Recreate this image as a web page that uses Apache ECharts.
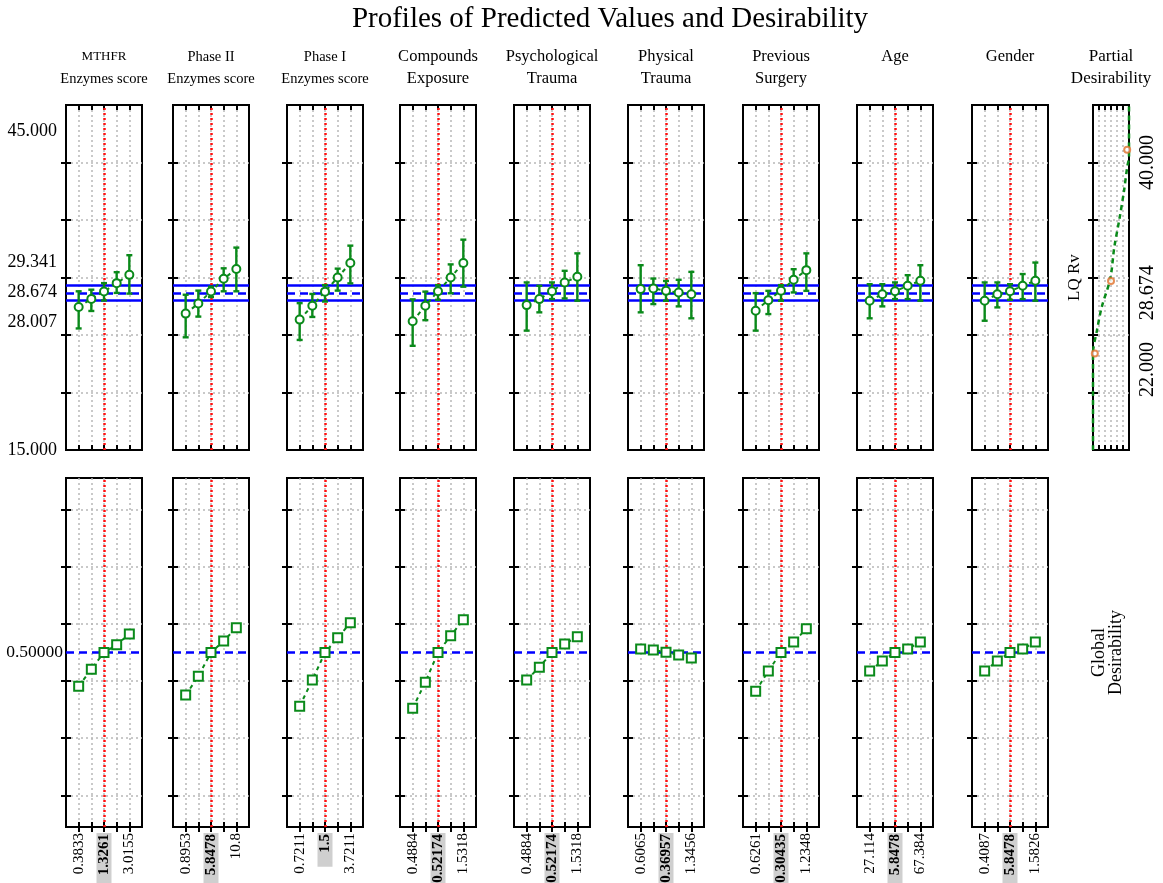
<!DOCTYPE html>
<html><head><meta charset="utf-8">
<script src="https://cdn.jsdelivr.net/npm/echarts@6/dist/echarts.min.js"></script>
<style>html,body{margin:0;padding:0;background:#fff}#chart{width:1163px;height:883px}</style>
</head><body><div id="chart"></div>
<script>
// ---------------- data ----------------
const titleText = 'Profiles of Predicted Values and Desirability';
const headers = ['{s|MTHFR}\n{m|Enzymes score}', '{m|Phase II}\n{m|Enzymes score}', '{m|Phase I}\n{m|Enzymes score}', 'Compounds\nExposure',
  'Psychological\nTrauma', 'Physical\nTrauma', 'Previous\nSurgery', 'Age', 'Gender'];
const levels = [1, 2, 3, 4, 5];          // factor level positions
const currentLevel = 3;                  // red dotted line
const lqMean = 28.674, lqCiLow = 28.007, lqCiHigh = 29.341;
const globalDesirability = 0.5;
const yTopLabels = [15, 28.674, 45];
const yTopTicks = [20, 25, 30, 35, 40];

const lqPred = [
  [27.43, 28.14, 28.78, 29.51, 30.23],
  [26.86, 27.74, 28.78, 29.89, 30.74],
  [26.34, 27.54, 28.77, 30.00, 31.26],
  [26.20, 27.54, 28.80, 30.00, 31.26],
  [27.60, 28.12, 28.80, 29.57, 30.06],
  [28.99, 29.05, 28.84, 28.70, 28.55],
  [27.11, 28.03, 28.85, 29.80, 30.64],
  [27.98, 28.55, 28.80, 29.28, 29.71],
  [27.98, 28.55, 28.80, 29.28, 29.71]
];
const lqLow = [
  [25.57, 27.09, 28.00, 28.66, 28.60],
  [24.80, 26.60, 28.30, 28.80, 28.80],
  [24.57, 26.57, 27.91, 28.86, 29.49],
  [24.06, 26.29, 28.06, 28.63, 29.20],
  [25.38, 26.97, 28.12, 28.18, 27.98],
  [26.97, 27.69, 27.98, 27.49, 26.45],
  [25.38, 26.82, 27.98, 28.70, 28.84],
  [26.45, 27.49, 28.12, 28.12, 27.98],
  [26.24, 27.40, 28.06, 28.12, 27.98]
];
const lqHigh = [
  [28.80, 28.94, 29.51, 30.46, 31.94],
  [28.50, 28.86, 29.20, 30.80, 32.60],
  [27.77, 28.57, 29.34, 30.77, 32.77],
  [28.10, 28.77, 29.34, 31.14, 33.29],
  [29.57, 29.28, 29.57, 30.58, 32.10],
  [31.07, 29.91, 29.70, 29.80, 30.49],
  [28.64, 28.84, 29.34, 30.72, 32.10],
  [29.42, 29.42, 29.57, 30.20, 31.07],
  [29.57, 29.57, 29.42, 30.30, 31.30]
];
const desirability = [
  [0.403, 0.452, 0.500, 0.522, 0.553],
  [0.378, 0.432, 0.500, 0.533, 0.571],
  [0.346, 0.421, 0.500, 0.542, 0.585],
  [0.340, 0.415, 0.500, 0.548, 0.594],
  [0.421, 0.458, 0.500, 0.524, 0.545],
  [0.510, 0.507, 0.501, 0.493, 0.484],
  [0.389, 0.447, 0.500, 0.530, 0.568],
  [0.447, 0.476, 0.500, 0.510, 0.530],
  [0.447, 0.476, 0.500, 0.510, 0.530]
];
const lowLabels  = ['0.3833', '0.8953', '0.7211', '0.4884', '0.4884', '0.6065', '0.6261', '27.114', '0.4087'];
const midLabels  = ['1.3261', '5.8478', '1.5', '0.52174', '0.52174', '0.36957', '0.30435', '5.8478', '5.8478'];
const highLabels = ['3.0155', '10.8', '3.7211', '1.5318', '1.5318', '1.3456', '1.2348', '67.384', '1.5826'];

// partial desirability curve (desirability, LQ Rv)
const partialD  = [0, 0, 0.11, 0.24, 0.48, 0.59, 0.74, 0.86, 0.95, 1, 1];
const partialLQ = [15, 23.4, 25.4, 27.4, 29.9, 32.6, 35.2, 37.5, 39.6, 40.5, 45];
const partialMarkD  = [0.05, 0.5, 0.95];
const partialMarkLQ = [23.4, 29.7, 41.1];
const partialLabels = [22, 28.674, 40];

// ---------------- layout ----------------
const FONT = 'Liberation Serif';
const GREEN = '#0a8a1a';
const panelLefts = [66, 173, 287, 400, 514, 628, 743, 857, 972];
const PANEL_W = 76;
const TOP_Y = 105, TOP_H = 345, BOT_Y = 478, BOT_H = 349;
const RIGHT_L = 1093, RIGHT_W = 36;
const headerGaps = [15, 15, 15, 15, 15, 15, 15, 37, 37];
const desGridLines = [0.09, 0.255, 0.418, 0.582, 0.745, 0.91];
const partialGridLines = [1/6, 2/6, 3/6, 4/6, 5/6];

const tickStyle = { show: true, inside: true, length: 5, lineStyle: { color: '#000', width: 2 } };
const gridLineStyle = { show: true, lineStyle: { color: '#b8b8b8', type: [2, 3], width: 1.5 } };
const ticksAt = vals => Object.assign({ customValues: vals }, tickStyle);

const option = {
  backgroundColor: '#fff',
  animation: false,
  textStyle: { fontFamily: FONT, color: '#000' },
  title: { text: titleText, left: 605, top: 0, textAlign: 'center',
    textStyle: { fontFamily: FONT, fontSize: 29, fontWeight: 'normal', color: '#000' } },
  grid: [], xAxis: [], yAxis: [], series: []
};

function addGrid(left, top, width, height) {
  option.grid.push({ left, top, width, height, show: true, borderColor: '#000', borderWidth: 2,
    backgroundColor: '#fff', outerBoundsMode: 'none' });
  return option.grid.length - 1;
}
function addAxis(kind, cfg) { option[kind].push(cfg); return option[kind].length - 1; }

const headerNameStyle = { fontFamily: FONT, fontSize: 16.5, lineHeight: 22, color: '#000',
  rich: { s: { fontFamily: FONT, fontSize: 13, lineHeight: 22 }, m: { fontFamily: FONT, fontSize: 14.5, lineHeight: 22 } } };

function levelXAxis(g, position, extra) {
  return Object.assign({ gridIndex: g, type: 'value', min: 0, max: 6, position,
    axisLine: { show: false }, axisTick: ticksAt(levels), axisLabel: { show: false },
    splitLine: position === 'bottom' ? gridLineStyle : { show: false } }, extra || {});
}

const markLineBase = { silent: true, symbol: ['none', 'none'], label: { show: false }, animation: false };

for (let i = 0; i < 9; i++) {
  // ---------- top panel: predicted LQ Rv ----------
  const gt = addGrid(panelLefts[i], TOP_Y, PANEL_W, TOP_H);
  const xb = addAxis('xAxis', levelXAxis(gt, 'bottom'));
  addAxis('xAxis', levelXAxis(gt, 'top', { name: headers[i], nameLocation: 'middle', nameGap: headerGaps[i], nameTextStyle: headerNameStyle }));
  const yl = addAxis('yAxis', {
    gridIndex: gt, type: 'value', min: 15, max: 45, position: 'left',
    axisLine: { show: false }, axisTick: ticksAt(yTopTicks), splitLine: gridLineStyle,
    axisLabel: i === 0 ? {
      show: true, customValues: yTopLabels, margin: 9, fontFamily: FONT, fontSize: 18, color: '#000', lineHeight: 30,
      formatter: v => v === 28.674 ? [lqCiHigh, lqMean, lqCiLow].map(n => n.toFixed(3)).join('\n')
                   : (v === 45 ? '{t|' + v.toFixed(3) + '}' : v.toFixed(3)),
      rich: { t: { fontFamily: FONT, fontSize: 18, padding: [52, 0, 0, 0] } }
    } : { show: false }
  });
  addAxis('yAxis', { gridIndex: gt, type: 'value', min: 15, max: 45, position: 'right',
    axisLine: { show: false }, axisTick: ticksAt(yTopTicks), axisLabel: { show: false }, splitLine: { show: false } });

  option.series.push({
    type: 'custom', xAxisIndex: xb, yAxisIndex: yl, z: 3,
    data: levels.map((x, k) => [x, lqLow[i][k], lqHigh[i][k]]),
    encode: { x: 0, y: [1, 2] },
    renderItem: (params, api) => {
      const x = api.value(0);
      const pLo = api.coord([x, api.value(1)]);
      const pHi = api.coord([x, api.value(2)]);
      const st = { stroke: GREEN, lineWidth: 2.4 };
      const hw = 3;
      return { type: 'group', children: [
        { type: 'line', shape: { x1: pLo[0], y1: pLo[1], x2: pHi[0], y2: pHi[1] }, style: st },
        { type: 'line', shape: { x1: pLo[0] - hw, y1: pLo[1], x2: pLo[0] + hw, y2: pLo[1] }, style: st },
        { type: 'line', shape: { x1: pHi[0] - hw, y1: pHi[1], x2: pHi[0] + hw, y2: pHi[1] }, style: st }
      ] };
    }
  });
  option.series.push({
    type: 'line', xAxisIndex: xb, yAxisIndex: yl, z: 4,
    data: levels.map((x, k) => [x, lqPred[i][k]]),
    symbol: 'emptyCircle', symbolSize: 8,
    itemStyle: { color: GREEN, borderWidth: 2 },
    lineStyle: { color: GREEN, width: 2, type: [4, 4] },
    markLine: Object.assign({}, markLineBase, { z: 2, data: [
      { yAxis: lqCiLow, lineStyle: { color: '#0000ff', width: 2.5, type: 'solid' } },
      { yAxis: lqCiHigh, lineStyle: { color: '#0000ff', width: 2.5, type: 'solid' } },
      { yAxis: lqMean, lineStyle: { color: '#0000ff', width: 2.5, type: [8, 5] } },
      { xAxis: currentLevel, lineStyle: { color: '#ff1010', width: 2.5, type: [2, 3] } }
    ] })
  });

  // ---------- bottom panel: global desirability ----------
  const gb = addGrid(panelLefts[i], BOT_Y, PANEL_W, BOT_H);
  const xbb = addAxis('xAxis', levelXAxis(gb, 'bottom', {
    axisLabel: {
      show: true, customValues: [1, 3, 5], rotate: 90, margin: 6, fontFamily: FONT, fontSize: 15, color: '#000',
      formatter: v => v === 1 ? lowLabels[i] : (v === 3 ? '{b|' + midLabels[i] + '}' : highLabels[i]),
      rich: { b: { fontFamily: FONT, fontSize: 15, fontWeight: 'bold', backgroundColor: '#cfcfcf', padding: [0, 1, 0, 14] } }
    }
  }));
  addAxis('xAxis', levelXAxis(gb, 'top'));
  const ybl = addAxis('yAxis', {
    gridIndex: gb, type: 'value', min: 0, max: 1, position: 'left',
    axisLine: { show: false }, axisTick: ticksAt(desGridLines), splitLine: gridLineStyle,
    axisLabel: i === 0 ? { show: true, customValues: [globalDesirability], margin: 3, fontFamily: FONT, fontSize: 17.5, color: '#000',
      formatter: v => v.toFixed(5) } : { show: false }
  });
  addAxis('yAxis', Object.assign({
    gridIndex: gb, type: 'value', min: 0, max: 1, position: 'right',
    axisLine: { show: false }, axisTick: ticksAt(desGridLines),
    axisLabel: { show: false }, splitLine: { show: false }
  }, i === 8 ? { name: 'Global\nDesirability', nameLocation: 'middle', nameRotate: 90, nameGap: 43,
    nameTextStyle: { fontFamily: FONT, fontSize: 18, lineHeight: 17, color: '#000' } } : {}));

  option.series.push({
    type: 'line', xAxisIndex: xbb, yAxisIndex: ybl, z: 4,
    data: levels.map((x, k) => [x, desirability[i][k]]),
    symbol: 'emptyRect', symbolSize: 9,
    itemStyle: { color: GREEN, borderWidth: 2.2 },
    lineStyle: { color: GREEN, width: 2, type: [4, 4] },
    markLine: Object.assign({}, markLineBase, { z: 2, data: [
      { yAxis: globalDesirability, lineStyle: { color: '#0000ff', width: 2.5, type: [8, 5] } },
      { xAxis: currentLevel, lineStyle: { color: '#ff1010', width: 2.5, type: [2, 3] } }
    ] })
  });
}

// ---------- partial desirability panel ----------
const gp = addGrid(RIGHT_L, TOP_Y, RIGHT_W, TOP_H);
const xp = addAxis('xAxis', { gridIndex: gp, type: 'value', min: 0, max: 1, position: 'bottom',
  axisLine: { show: false }, axisTick: ticksAt(partialGridLines),
  axisLabel: { show: false }, splitLine: gridLineStyle });
addAxis('xAxis', { gridIndex: gp, type: 'value', min: 0, max: 1, position: 'top',
  axisLine: { show: false }, axisTick: ticksAt(partialGridLines),
  axisLabel: { show: false }, splitLine: { show: false },
  name: 'Partial\nDesirability', nameLocation: 'middle', nameGap: 15,
  nameTextStyle: Object.assign({}, headerNameStyle, { fontSize: 17 }) });
const yp = addAxis('yAxis', { gridIndex: gp, type: 'value', min: 15, max: 45, position: 'left',
  axisLine: { show: false }, axisTick: ticksAt(yTopTicks), axisLabel: { show: false }, splitLine: gridLineStyle,
  name: 'LQ Rv', nameLocation: 'middle', nameRotate: 90, nameGap: 10,
  nameTextStyle: { fontFamily: FONT, fontSize: 17, color: '#000' } });
addAxis('yAxis', { gridIndex: gp, type: 'value', min: 15, max: 45, position: 'right',
  axisLine: { show: false }, axisTick: ticksAt(yTopTicks), splitLine: { show: false },
  axisLabel: { show: true, customValues: partialLabels, rotate: 90, margin: 9, fontFamily: FONT, fontSize: 20, color: '#000',
    formatter: v => v.toFixed(3) } });

option.series.push({
  type: 'line', xAxisIndex: xp, yAxisIndex: yp, z: 4, showSymbol: false, smooth: 0.3,
  data: partialD.map((d, k) => [d, partialLQ[k]]),
  lineStyle: { color: GREEN, width: 2.5, type: [5, 4] }
});
option.series.push({
  type: 'scatter', xAxisIndex: xp, yAxisIndex: yp, z: 5,
  data: partialMarkD.map((d, k) => [d, partialMarkLQ[k]]),
  symbol: 'emptyCircle', symbolSize: 6,
  itemStyle: { color: '#e0702a', borderWidth: 2 }
});

const chart = echarts.init(document.getElementById('chart'), null, { renderer: 'canvas' });
chart.setOption(option);
</script></body></html>
